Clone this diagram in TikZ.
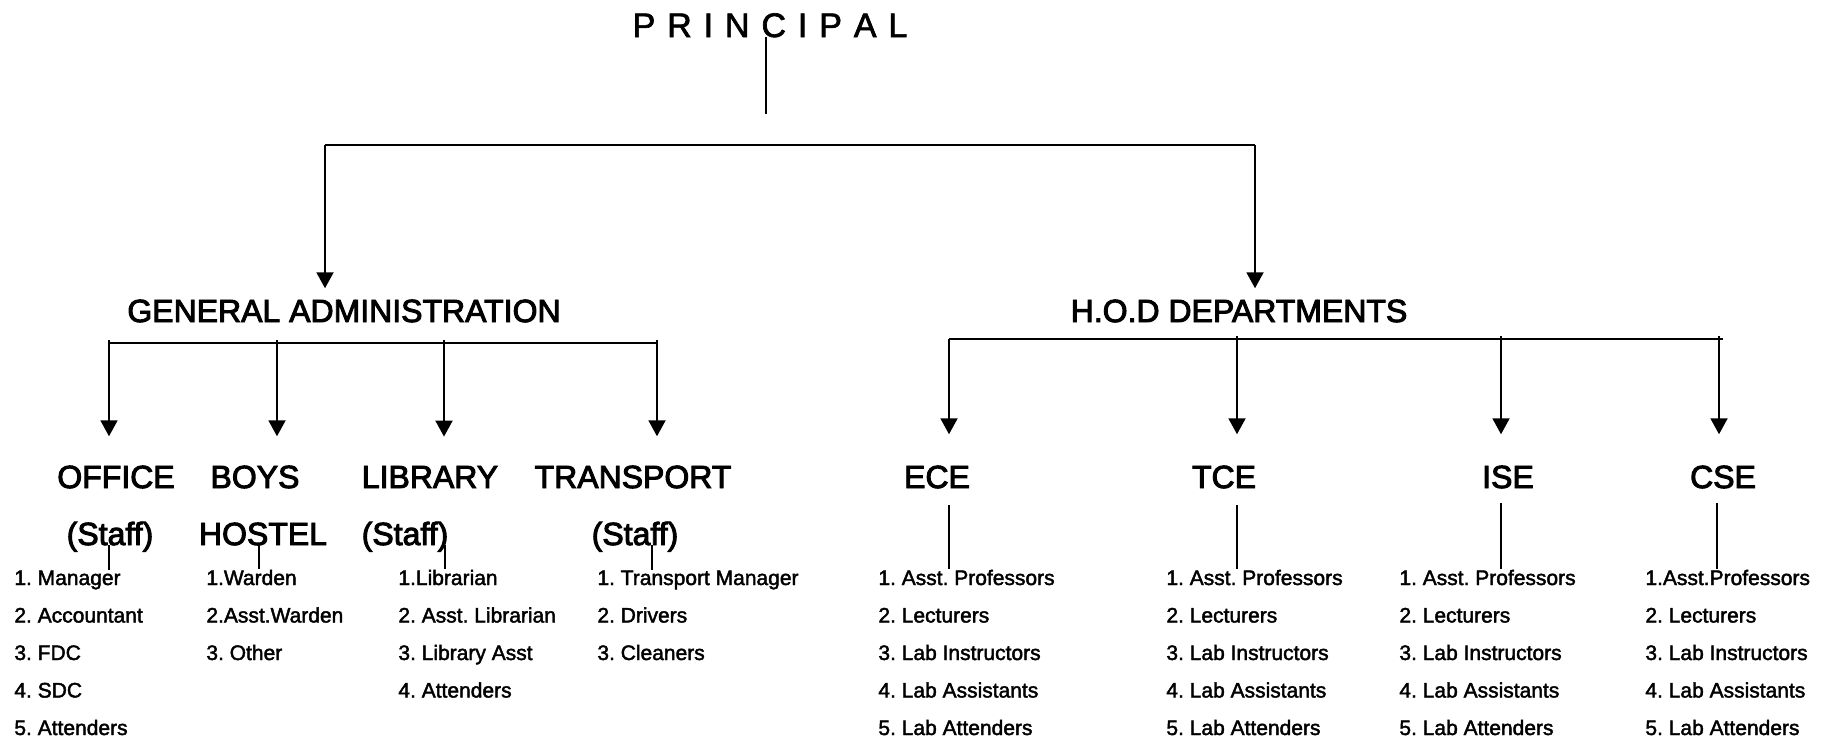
\documentclass[tikz,border=0pt]{standalone}
\usepackage{fontspec}
\setmainfont{Liberation Sans}
\newfontfamily\headfont[FakeBold=3]{Liberation Sans}
\newfontfamily\itemfont[FakeBold=2]{Liberation Sans}
\usetikzlibrary{arrows.meta}
\frenchspacing

\begin{document}
\begin{tikzpicture}[x=0.5pt,y=-0.5pt,
  head/.style={anchor=base,font=\headfont\fontsize{16}{19}\selectfont},
  item/.style={anchor=base west,font=\itemfont\fontsize{10.5}{12}\selectfont},
  bar/.style={black,line width=1pt},
  arr/.style={black,line width=1pt,-{Triangle[width=8.5pt,length=8pt]}},
  link/.style={black,line width=0.8pt}]
\tikzstyle{every node}+=[inner sep=0pt]
\useasboundingbox (0,0) rectangle (1834,739);
\node [anchor=base,font=\itemfont\fontsize{17}{20}\selectfont] (principal) at (770,37) {\spaceskip=0.35em P R I N C I P A L};
\node [head] (genadmin) at (344,322) {GENERAL ADMINISTRATION};
\node [head] (hod) at (1239,322) {H.O.D DEPARTMENTS};
\node [head] (office) at (116,488) {OFFICE};
\node [head] (offstaff) at (110,545) {(Staff)};
\node [head] (boys) at (255,488) {BOYS};
\node [head] (hostel) at (263,545) {HOSTEL};
\node [head] (library) at (430,488) {LIBRARY};
\node [head] (libstaff) at (405,545) {(Staff)};
\node [head] (transport) at (633,488) {TRANSPORT};
\node [head] (trstaff) at (635,545) {(Staff)};
\node [head] (ece) at (937,488) {ECE};
\node [head] (tce) at (1224,488) {TCE};
\node [head] (ise) at (1508,488) {ISE};
\node [head] (cse) at (1723,488) {CSE};
\foreach \t [count=\i] in {1. Manager, 2. Accountant, 3. FDC, 4. SDC, 5. Attenders}
  \node [item] (office-\i) at (14,{547.5+37.5*\i}) {\t};
\foreach \t [count=\i] in {1.Warden, 2.Asst.Warden, 3. Other}
  \node [item] (hostel-\i) at (206,{547.5+37.5*\i}) {\t};
\foreach \t [count=\i] in {1.Librarian, 2. Asst. Librarian, 3. Library Asst, 4. Attenders}
  \node [item] (library-\i) at (398,{547.5+37.5*\i}) {\t};
\foreach \t [count=\i] in {1. Transport Manager, 2. Drivers, 3. Cleaners}
  \node [item] (transport-\i) at (597,{547.5+37.5*\i}) {\t};
\foreach \t [count=\i] in {1. Asst. Professors, 2. Lecturers, 3. Lab Instructors, 4. Lab Assistants, 5. Lab Attenders}
  \node [item] (ece-\i) at (878,{547.5+37.5*\i}) {\t};
\foreach \t [count=\i] in {1. Asst. Professors, 2. Lecturers, 3. Lab Instructors, 4. Lab Assistants, 5. Lab Attenders}
  \node [item] (tce-\i) at (1166,{547.5+37.5*\i}) {\t};
\foreach \t [count=\i] in {1. Asst. Professors, 2. Lecturers, 3. Lab Instructors, 4. Lab Assistants, 5. Lab Attenders}
  \node [item] (ise-\i) at (1399,{547.5+37.5*\i}) {\t};
\foreach \t [count=\i] in {1.Asst.Professors, 2. Lecturers, 3. Lab Instructors, 4. Lab Assistants, 5. Lab Attenders}
  \node [item] (cse-\i) at (1645,{547.5+37.5*\i}) {\t};
\coordinate (pend) at (766,114);
\draw [link] (principal.base -| pend) -- (pend);
\coordinate (gtop) at (325,145);
\coordinate (htop) at (1255,145);
\draw [bar] (gtop) -- (htop);
\draw [arr,shorten >=5.5pt] (gtop) -- (gtop |- genadmin.north);
\draw [arr,shorten >=5.5pt] (htop) -- (htop |- hod.north);
\coordinate (gbarl) at (109,343);
\coordinate (gbarr) at (657,343);
\draw [bar] (gbarl) -- (gbarr);
\coordinate (gof) at (109,340);
\coordinate (gbh) at (277,340);
\coordinate (glib) at (444,340);
\coordinate (gtr) at (657,340);
\draw [arr,shorten >=14.5pt] (gof) -- (gof |- office.north);
\draw [arr,shorten >=14.5pt] (gbh) -- (gbh |- boys.north);
\draw [arr,shorten >=14.5pt] (glib) -- (glib |- library.north);
\draw [arr,shorten >=14.5pt] (gtr) -- (gtr |- transport.north);
\coordinate (hbarl) at (949,339);
\coordinate (hbarr) at (1723,339);
\draw [bar] (hbarl) -- (hbarr);
\coordinate (hece) at (949,339);
\coordinate (htce) at (1237,336);
\coordinate (hise) at (1501,336);
\coordinate (hcse) at (1719,336);
\draw [arr,shorten >=15.5pt] (hece) -- (hece |- ece.north);
\draw [arr,shorten >=15.5pt] (htce) -- (htce |- tce.north);
\draw [arr,shorten >=15.5pt] (hise) -- (hise |- ise.north);
\draw [arr,shorten >=15.5pt] (hcse) -- (hcse |- cse.north);
\draw [link] (offstaff.base -| 109,0) -- (office-1.north -| 109,0);
\draw [link] (hostel.base -| 259,0) -- (hostel-1.north -| 259,0);
\draw [link] (libstaff.base -| 445,0) -- (library-1.north -| 445,0);
\draw [link] (trstaff.base -| 652,0) -- (transport-1.north -| 652,0);
\draw [link,shorten <=8.5pt] (ece.base -| hece) -- (ece-1.north -| hece);
\draw [link,shorten <=8.5pt] (tce.base -| htce) -- (tce-1.north -| htce);
\draw [link,shorten <=7.5pt] (ise.base -| hise) -- (ise-1.north -| hise);
\draw [link,shorten <=7.5pt] (cse.base -| 1717,0) -- (cse-1.north -| 1717,0);
\end{tikzpicture}
\end{document}
